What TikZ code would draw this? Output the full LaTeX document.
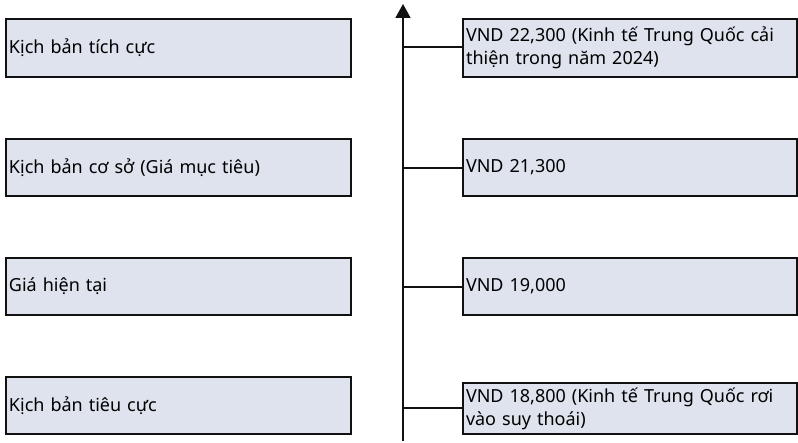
\documentclass[tikz,border=0pt]{standalone}
\usepackage{fontspec}
\setmainfont{Noto Sans}
\usetikzlibrary{arrows.meta}
\definecolor{boxfill}{HTML}{DEE3ED}
\definecolor{edge}{HTML}{111111}
\tikzset{
  box/.style={draw=edge, line width=1.8pt, fill=boxfill, inner xsep=3pt, inner ysep=0pt, align=left,
    font=\fontsize{18}{23}\selectfont, anchor=center},
  lbox/.style={box, minimum width=345pt, text width=339pt},
  rbox/.style={box, minimum width=334pt, text width=328pt},
  conn/.style={draw=edge, line width=1.8pt},
  axis/.style={draw=edge, line width=1.8pt, -{Triangle[length=14pt,width=15pt]}}
}
\begin{document}
\begin{tikzpicture}[x=1pt,y=-1pt]
\useasboundingbox (0,0) rectangle (798,443);
% left boxes
\node[lbox, minimum height=58pt] (l1) at (178.5,48) {Kịch bản tích cực};
\node[lbox, minimum height=57pt] (l2) at (178.5,167.5) {Kịch bản cơ sở (Giá mục tiêu)};
\node[lbox, minimum height=57pt] (l3) at (178.5,286.5) {Giá hiện tại};
\node[lbox, minimum height=57pt] (l4) at (178.5,405.5) {Kịch bản tiêu cực};
% right boxes
\node[rbox, minimum height=58pt] (r1) at (630,48) {VND 22,300 (Kinh tế Trung Quốc cải\\thiện trong năm 2024)};
\node[rbox, minimum height=57pt] (r2) at (630,167.5) {VND 21,300};
\node[rbox, minimum height=57pt] (r3) at (630,286.5) {VND 19,000};
\node[rbox, minimum height=51pt] (r4) at (630,408.5) {VND 18,800 (Kinh tế Trung Quốc rơi\\vào suy thoái)};
% axis
\coordinate (abot) at (403,441);
\coordinate (atop) at (403,4);
\draw[axis] (abot) -- (atop);
\coordinate (c1) at (403,47);
\coordinate (c2) at (403,168);
\coordinate (c3) at (403,287);
\coordinate (c4) at (403,408);
\draw[conn] (c1) -- (c1 -| r1.west);
\draw[conn] (c2) -- (c2 -| r2.west);
\draw[conn] (c3) -- (c3 -| r3.west);
\draw[conn] (c4) -- (c4 -| r4.west);
\end{tikzpicture}
\end{document}
